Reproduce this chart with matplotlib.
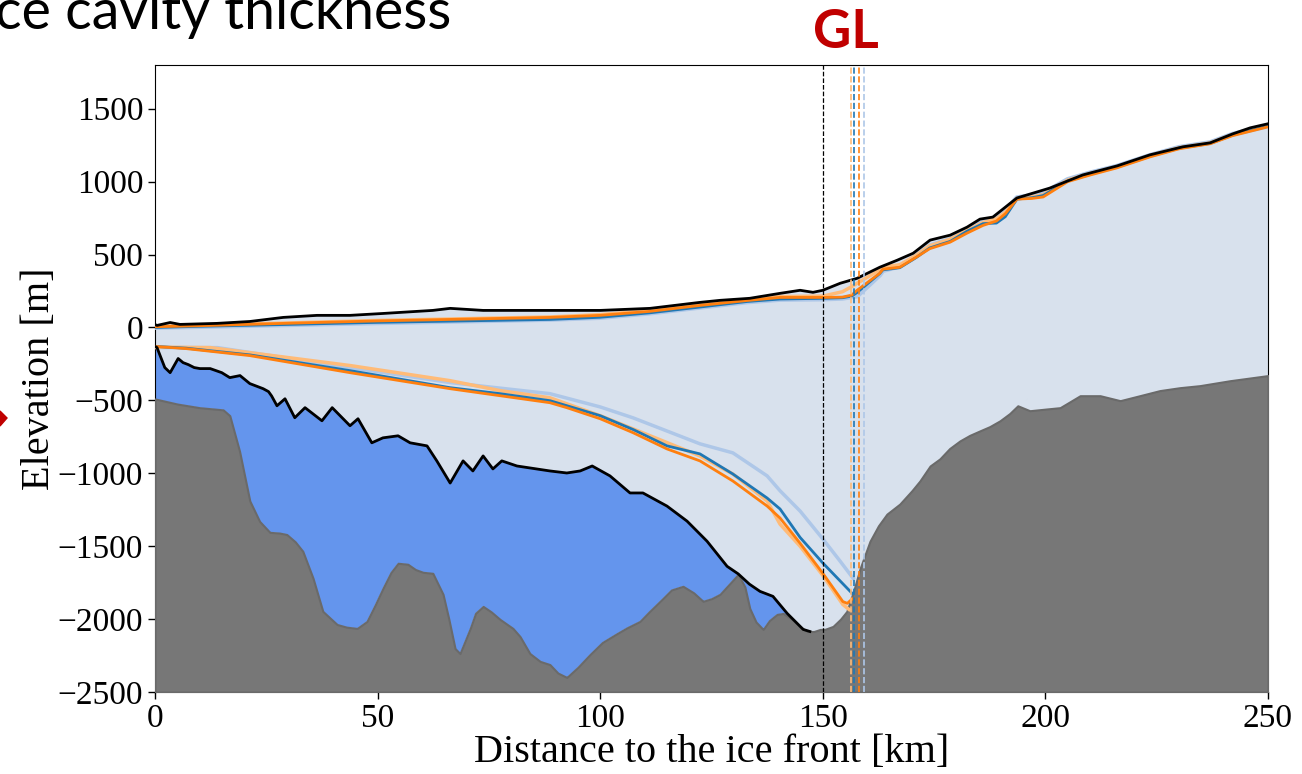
import matplotlib
matplotlib.use('Agg')
import matplotlib.pyplot as plt
import numpy as np
from matplotlib.patches import Polygon

plt.rcParams['font.family'] = ['Liberation Serif', 'DejaVu Serif']

# bedrock elevation along the flow line (km, m)
bed_x = [0, 5, 10, 15.3, 16.8, 19, 21.3, 23.5, 25.8, 28, 29.6, 31.5, 33.2, 35.5, 37.7, 40.9, 43, 45.4,
         47.6, 49.5, 51.2, 53, 54.6, 56.8, 58.5, 60.2, 62.4, 64.7, 66, 67.4, 68.5, 70.8, 72, 73.7, 75.5,
         77.5, 80.4, 82, 84.2, 86.5, 88.7, 90.5, 92.5, 95, 97.7, 100.5, 103.8, 106, 108.9, 111, 114.1,
         116, 118.6, 121, 123.1, 125, 126.9, 129, 131, 132.5, 133.6, 135, 136.6, 138, 139.7, 141.1, 143,
         144.8, 146.5, 148, 149.4, 150.5, 152.3, 154, 155.4, 157, 158.4, 160.6, 162.5, 164.4, 167.3, 170,
         171.8, 174.1, 176.3, 178.5, 180.8, 183, 185.3, 187.5, 189.8, 192, 193.8, 196.5, 200, 203.3, 205.5,
         207.8, 212.3, 216.8, 221.2, 225.7, 230.2, 234.7, 241.5, 250]
bed_y = [-490, -525, -550, -565, -605, -850, -1190, -1330, -1405, -1410, -1420, -1470, -1535, -1720, -1947,
         -2037, -2055, -2064, -2016, -1900, -1789, -1680, -1617, -1624, -1660, -1679, -1686, -1830, -2000,
         -2202, -2236, -2064, -1960, -1913, -1950, -2002, -2064, -2120, -2236, -2290, -2312, -2370, -2400,
         -2330, -2243, -2160, -2099, -2060, -2016, -1950, -1858, -1800, -1775, -1820, -1878, -1860, -1830,
         -1760, -1693, -1780, -1927, -2020, -2071, -2010, -1968, -1961, -2000, -2050, -2085, -2085, -2071,
         -2070, -2050, -2000, -1947, -1800, -1651, -1466, -1360, -1280, -1211, -1120, -1053, -950, -901,
         -830, -778, -740, -709, -680, -640, -590, -537, -571, -560, -550, -510, -468, -468, -502, -468,
         -433, -413, -399, -365, -330]

# observed ice base (black line)
base_x = [0, 0.45, 2.2, 3.4, 5.2, 6.3, 7.5, 8.8, 10.1, 12.4, 15.0, 16.8, 19.1, 21.3, 24.3, 25.5, 26.2, 27.4,
          29.2, 31.4, 33.7, 37.5, 39.8, 43.8, 45.6, 48.7, 51.2, 54.6, 57.3, 61.1, 63.3, 66.3, 69.2, 71.4,
          73.7, 75.9, 77.9, 81.3, 88.7, 92.5, 95.5, 98.2, 102.2, 106.7, 109.6, 115.0, 119.5, 124.0, 128.5,
          131.0, 133.5, 135.9, 138.8, 142.0, 145.6, 147.1]
base_y = [-130, -138, -275, -310, -213, -241, -255, -275, -282, -282, -310, -344, -330, -385, -420, -440,
          -470, -537, -489, -619, -550, -640, -550, -674, -626, -791, -757, -743, -791, -812, -915, -1067,
          -915, -984, -881, -970, -915, -950, -984, -998, -984, -950, -1018, -1135, -1135, -1225, -1328,
          -1466, -1638, -1690, -1760, -1810, -1844, -1961, -2071, -2085]

# observed ice surface (black line)
surf_x = [0, 0.45, 3.4, 5.6, 13.9, 21.3, 28.8, 36.4, 43.8, 51.2, 62.4, 66.3, 73.7, 81.3, 88.7, 100, 111.2,
          122.4, 126.9, 133.6, 140.4, 144.9, 147.8, 150, 153.9, 157.7, 162.8, 166.7, 170.3, 174.1, 178.6,
          182.4, 185.3, 188.2, 193.6, 201.0, 208.4, 216.1, 223.5, 230.9, 237.0, 242.1, 246.0, 250]
surf_y = [20, 14, 34, 21, 28, 41, 69, 83, 83, 96, 117, 131, 117, 117, 117, 117, 131, 172, 186, 200, 234,
          255, 241, 255, 303, 337, 413, 461, 509, 599, 633, 688, 743, 757, 888, 956, 1046, 1108, 1184, 1239,
          1266, 1328, 1369, 1397]

# modelled ice surfaces
m_surf_x = [0, 10, 28.8, 50, 88.7, 100, 111, 122.4, 133, 140.4, 150, 154.4, 156.5, 157.7, 162.8, 163.5,
            167.3, 171, 174, 178.6, 182.4, 186, 189, 191, 193.6, 197, 199.5, 205, 210, 216, 223.5, 230, 237,
            242, 250]
orange_surf = [5, 12, 28, 45, 69, 83, 110, 151, 185, 206, 206, 208, 222, 255, 372, 400, 413, 482, 540, 585,
               647, 700, 730, 780, 880, 885, 895, 1000, 1045, 1094, 1170, 1225, 1260, 1315, 1376]
blue_surf = [0, 8, 20, 35, 55, 70, 100, 140, 178, 195, 200, 204, 215, 240, 370, 395, 410, 480, 545, 590,
             660, 712, 716, 760, 880, 890, 905, 1005, 1050, 1100, 1175, 1230, 1262, 1320, 1380]
lorange_surf = [8, 15, 30, 48, 72, 88, 115, 158, 190, 212, 215, 245, 280, 303, 395, 415, 430, 495, 560,
                605, 665, 720, 745, 790, 885, 895, 910, 1010, 1055, 1100, 1178, 1232, 1265, 1322, 1385]
lblue_surf = [0, 6, 18, 32, 55, 68, 98, 138, 175, 192, 195, 200, 210, 215, 360, 390, 420, 490, 560, 605,
              670, 725, 750, 800, 890, 905, 920, 1015, 1060, 1105, 1180, 1235, 1268, 1325, 1382]

# modelled ice base, each ending at its grounding line
orange_bx = [0, 7, 21.3, 43.8, 66.3, 77.5, 88.7, 92.5, 100, 107.4, 115, 122.4, 129.8, 137.5, 140.4, 144.9,
             150, 154.5, 155.5, 156.6]
orange_by = [-130, -145, -193, -310, -420, -468, -516, -550, -626, -722, -833, -915, -1053, -1225, -1307,
             -1480, -1686, -1880, -1892, -1862]
blue_bx = [0, 7, 21.3, 43.8, 66.3, 77.5, 88.7, 100, 107.4, 115, 122.4, 129.8, 137.5, 140.4, 144.9, 150, 156.6]
blue_by = [-130, -142, -188, -296, -413, -454, -502, -605, -700, -812, -867, -1005, -1170, -1245, -1440,
           -1615, -1824]
lorange_bx = [0, 12.4, 43.8, 66.3, 77.5, 88.7, 100, 111, 122.4, 129.8, 137.5, 140.4, 144.9, 150, 154.5, 155.9]
lorange_by = [-135, -138, -261, -365, -433, -482, -605, -740, -881, -1005, -1190, -1349, -1500, -1700, -1900,
              -1934]
lblue_bx = [0, 14, 43.8, 66.3, 88.7, 100, 107.4, 122.4, 129.8, 137.5, 140.4, 144.9, 150, 153.9, 156.8]
lblue_by = [-138, -138, -275, -378, -454, -545, -620, -798, -860, -1018, -1120, -1259, -1450, -1603, -1720]

# grounding line positions (km)
gl_obs = 150
gl_runs = [156.3, 157.0, 158.2, 159.3]
gl_colors = ['#ffbb78', '#1f77b4', '#ff7f0e', '#aec7e8']

x = np.linspace(0, 250, 2501)
bed = np.interp(x, bed_x, bed_y)
surf = np.interp(x, surf_x, surf_y)
base = np.interp(x, base_x, base_y)
floating = x <= base_x[-1]

fig = plt.figure(figsize=(13.02, 7.74), dpi=100)
ax = fig.add_axes([155 / 1302, 1 - 692 / 774, 1113 / 1302, 627 / 774])

# ice, cavity, bedrock
ax.fill_between(x, bed, surf, color='#d8e1ed', lw=0, zorder=1)
ax.fill_between(x, bed, base, where=floating & (base > bed), color='cornflowerblue', lw=0,
                interpolate=True, zorder=2)
ax.fill_between(x, -2500, bed, facecolor='#777777', edgecolor='#6a6a6a', lw=1.5, zorder=3)

# modelled runs
ax.plot(m_surf_x, lblue_surf, color='#aec7e8', lw=3.5, zorder=4)
ax.plot(m_surf_x, lorange_surf, color='#ffbb78', lw=2.5, zorder=4)
ax.plot(m_surf_x, blue_surf, color='#1f77b4', lw=2, zorder=4)
ax.plot(m_surf_x, orange_surf, color='#ff7f0e', lw=2, zorder=4)
ax.plot(lblue_bx, lblue_by, color='#aec7e8', lw=2.5, zorder=4)
ax.plot(lorange_bx, lorange_by, color='#ffbb78', lw=2.5, zorder=4)
ax.plot(blue_bx, blue_by, color='#1f77b4', lw=2, zorder=4)
ax.plot(orange_bx, orange_by, color='#ff7f0e', lw=2, zorder=4)

# observations
ax.plot(surf_x, surf_y, color='black', lw=2, zorder=5)
ax.plot(base_x, base_y, color='black', lw=2, zorder=5)

# grounding lines
ax.axvline(gl_obs, color='black', ls='--', lw=0.9, zorder=6)
for g, c in zip(gl_runs, gl_colors):
    ax.axvline(g, color=c, ls='--', lw=1.2, zorder=6)

ax.set_xlim(0, 250)
ax.set_ylim(-2500, 1800)
ax.set_xticks([0, 50, 100, 150, 200, 250])
ax.set_yticks([-2500, -2000, -1500, -1000, -500, 0, 500, 1000, 1500])
ax.tick_params(labelsize=24, length=5, width=1)
ax.set_xlabel('Distance to the ice front [km]', fontsize=29, labelpad=0)
ax.set_ylabel('Elevation [m]', fontsize=29, labelpad=0)

# slide decorations
fig.text(-0.004, 1 - 29 / 774, 'ce cavity thickness', fontsize=40, family=['Lato', 'DejaVu Sans'],
         ha='left', va='baseline')
fig.text(846 / 1302, 1 - 48 / 774, 'GL', fontsize=38, fontweight='bold', color='#c00000',
         family=['Lato', 'DejaVu Sans'], ha='center', va='baseline')
arrow = Polygon([[0, 1 - 411 / 774], [7 / 1302, 1 - 418 / 774], [0, 1 - 426 / 774]],
                closed=True, color='#c00000', transform=fig.transFigure)
fig.patches.append(arrow)

fig.savefig('out.png', dpi=100)
